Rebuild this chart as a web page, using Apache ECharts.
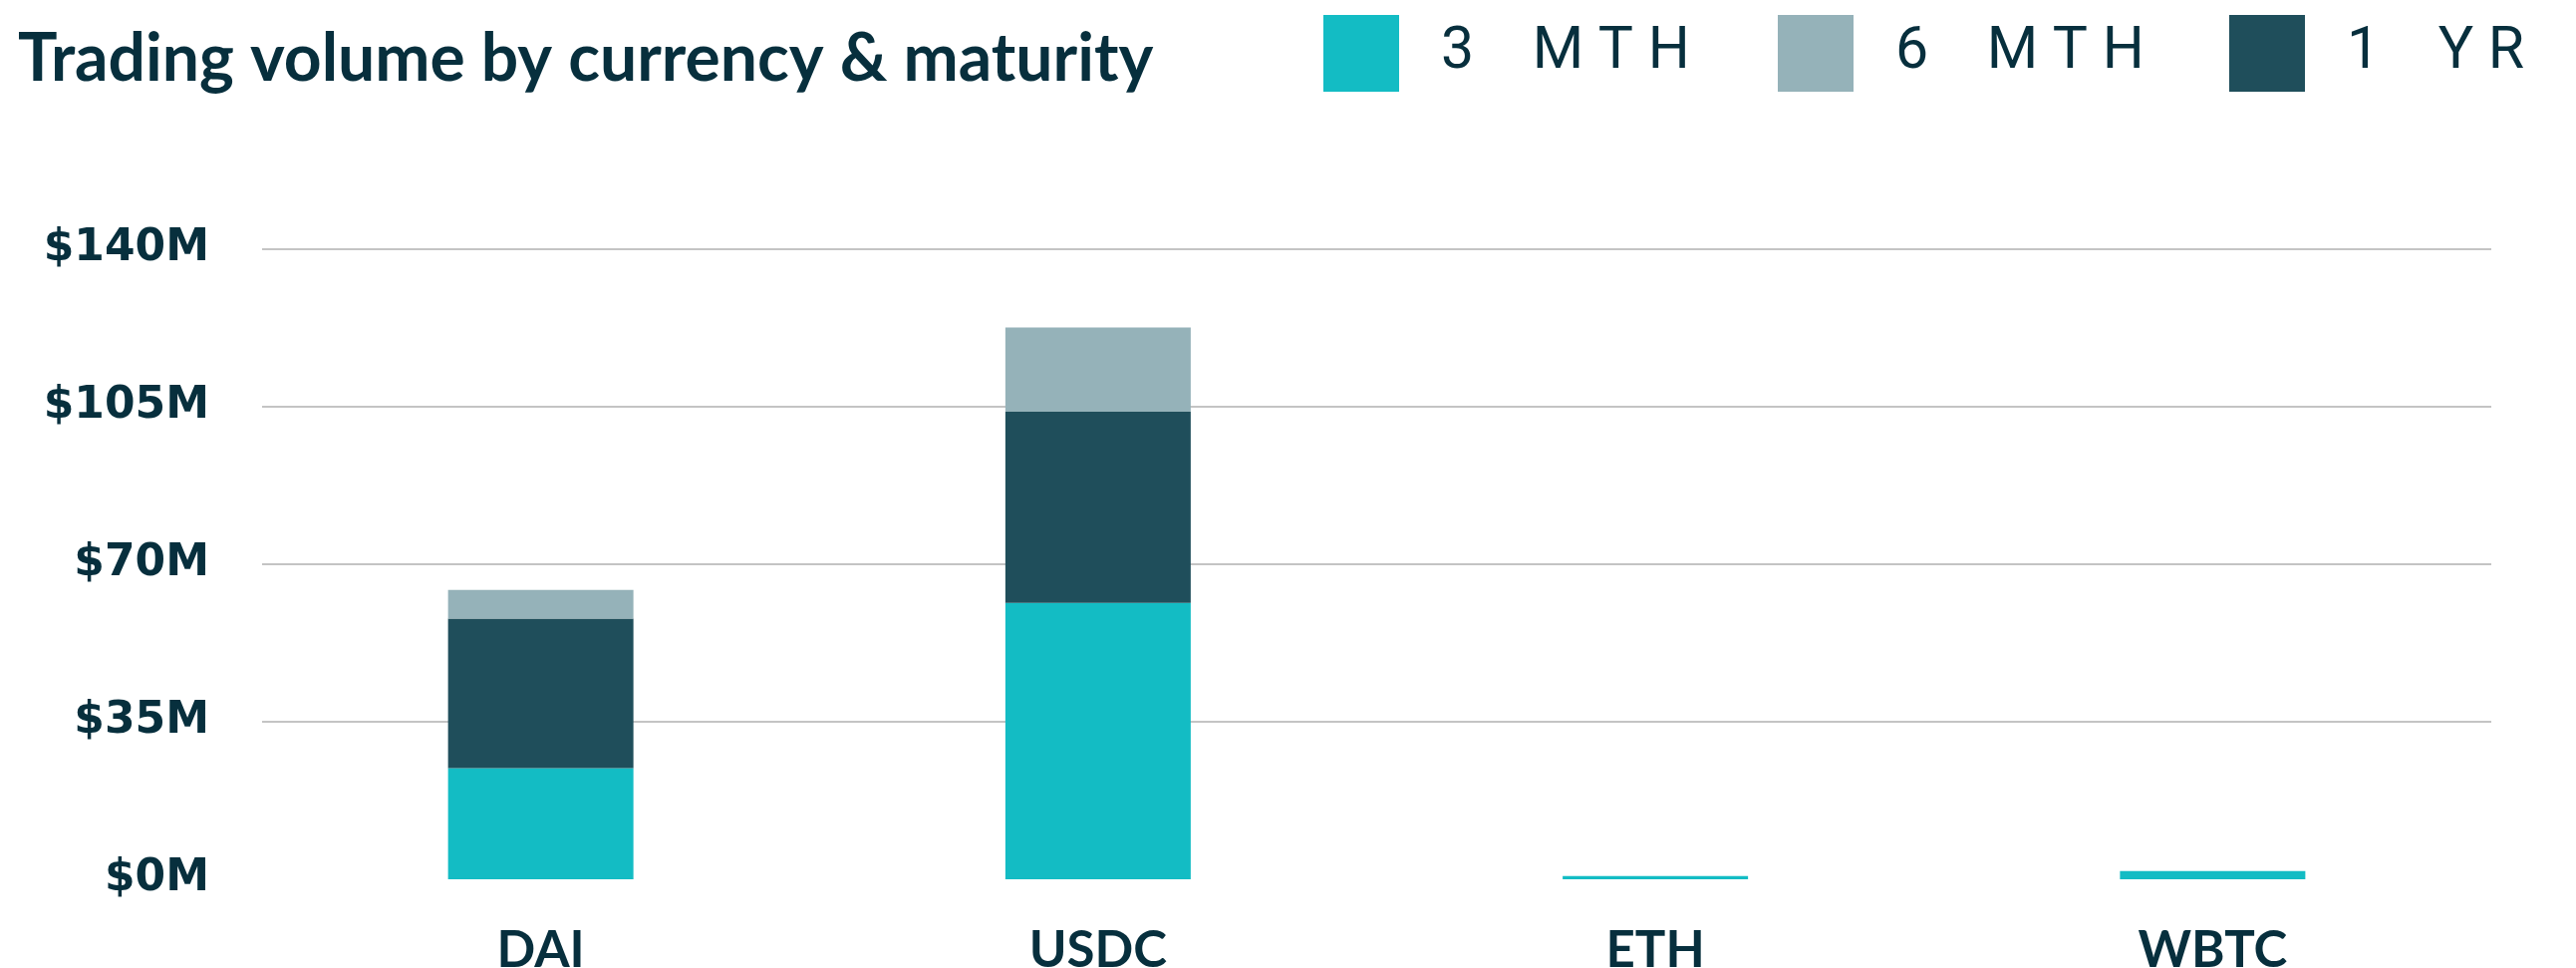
<!DOCTYPE html>
<html>
<head>
<meta charset="utf-8">
<script src="https://cdn.jsdelivr.net/npm/echarts@6/dist/echarts.min.js"></script>
<style>
  html, body { margin: 0; padding: 0; background: #ffffff; }
  #chart { width: 2585px; height: 971px; }
</style>
</head>
<body>
<div id="chart"></div>
<script>
// categories and values (in $M)
const currencies = ['DAI', 'USDC', 'ETH', 'WBTC']
const vol3Mth = [24.7, 61.4, 0.7, 1.8]
const vol1Yr = [33.2, 42.5, 0, 0]
const vol6Mth = [6.4, 18.7, 0, 0]
const yTicks = [0, 35, 70, 105, 140]

const ink = '#072f3d'
const colors = { m3: '#13bcc4', m6: '#95b2b9', y1: '#1f4e5b' }

// legend text is letter-spaced in the original, fake it with spaces
const spaced = name => name.split(' ').map(w => w.split('').join(' ')).join('    ')

const legendBase = {
  top: 10,
  icon: 'rect',
  itemWidth: 76,
  itemHeight: 77,
  selectedMode: false,
  formatter: spaced,
  textStyle: { fontFamily: 'Roboto', fontWeight: 'normal', fontSize: 59, color: ink, padding: [0, 0, 0, 37] },
}

const chart = echarts.init(document.getElementById('chart'))
chart.setOption({
  animation: false,
  title: {
    text: 'Trading volume by currency & maturity',
    left: 13, top: 22,
    textStyle: { fontFamily: 'Lato', fontWeight: 'bold', fontSize: 66, color: ink },
  },
  legend: [
    { ...legendBase, left: 1323, data: ['3 MTH'] },
    { ...legendBase, left: 1779, data: ['6 MTH'] },
    { ...legendBase, left: 2232, data: ['1 YR'] },
  ],
  grid: { left: 263, right: 85, top: 250, bottom: 89, containLabel: false, outerBoundsMode: 'none' },
  xAxis: {
    type: 'category', data: currencies,
    axisLine: { show: false }, axisTick: { show: false },
    axisLabel: { fontFamily: 'Lato', fontWeight: 'bold', fontSize: 51, color: ink, margin: 46 },
  },
  yAxis: {
    type: 'value', min: yTicks[0], max: yTicks[yTicks.length - 1], interval: 35,
    axisLine: { show: false }, axisTick: { show: false },
    axisLabel: {
      fontFamily: 'DejaVu Sans', fontWeight: 'bold', fontSize: 44, color: ink, margin: 53,
      formatter: v => '$' + v + 'M',
    },
    splitLine: { showMinLine: false, lineStyle: { color: '#c4c4c4', width: 2 } },
  },
  series: [
    { name: '3 MTH', type: 'bar', stack: 'vol', data: vol3Mth, barWidth: 186, itemStyle: { color: colors.m3 } },
    { name: '1 YR', type: 'bar', stack: 'vol', data: vol1Yr, barWidth: 186, itemStyle: { color: colors.y1 } },
    { name: '6 MTH', type: 'bar', stack: 'vol', data: vol6Mth, barWidth: 186, itemStyle: { color: colors.m6 } },
  ],
})
</script>
</body>
</html>
